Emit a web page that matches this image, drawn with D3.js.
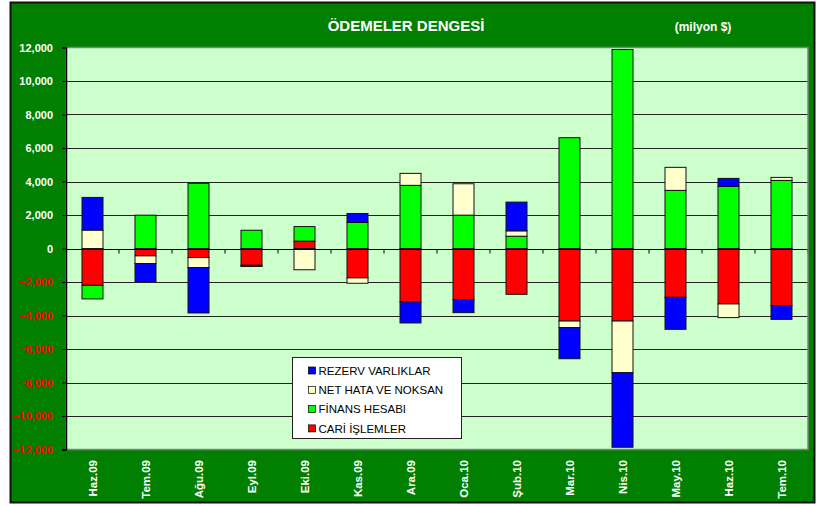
<!DOCTYPE html>
<html>
<head>
<meta charset="utf-8">
<script src="https://cdn.jsdelivr.net/npm/d3@7"></script>
<style>
  body { margin: 0; background: #fff; }
  text { font-family: Arial, "Liberation Sans", sans-serif; }
</style>
</head>
<body>
<div id="chart"></div>
<script>
// months and series (milyon $)
const months = ["Haz.09","Tem.09","Ağu.09","Eyl.09","Eki.09","Kas.09","Ara.09","Oca.10","Şub.10","Mar.10","Nis.10","May.10","Haz.10","Tem.10"];
const cari    = [-2200, -440, -540, -1000,  440, -1755, -3190, -3050, -2735, -4330, -4330, -2915, -3310, -3410];
const finans  = [ -810, 1990, 3890,  1090,  870,  1555,  3770,  1990,   735,  6615, 11880,  3470,  3710,  4065];
const netHata = [ 1100, -460, -595,   -40, -1270, -320,   715,  1875,   320,  -395, -3085,  1375,  -815,   180];
const rezerv  = [ 1950,-1075,-2715,   -30,    0,   535, -1255,  -780,  1715, -1855, -4450, -1910,   475,  -820];
const yTicks = [-12000,-10000,-8000,-6000,-4000,-2000,0,2000,4000,6000,8000,10000,12000];

const seriesInfo = [
  {key:"cari",    label:"CARİ İŞLEMLER",      color:"#ff0000", values:cari},
  {key:"finans",  label:"FİNANS HESABI",      color:"#00ff00", values:finans},
  {key:"netHata", label:"NET HATA VE NOKSAN", color:"#ffffcc", values:netHata},
  {key:"rezerv",  label:"REZERV VARLIKLAR",   color:"#0000ff", values:rezerv}
];

const table = months.map((m,i)=>{
  const row = {month:m};
  seriesInfo.forEach(s=>{ row[s.key]=s.values[i]; });
  return row;
});

const W = 819, H = 506;
const plot = {left: 66, right: 808, top: 47.5, bottom: 449.5};

const svg = d3.select("#chart").append("svg")
  .attr("width", W).attr("height", H);

// outer frame
svg.append("rect")
  .attr("x", 10.5).attr("y", 2.5)
  .attr("width", 804).attr("height", 500)
  .attr("fill", "#007f00")
  .attr("stroke", "#111").attr("stroke-width", 2);

// titles
svg.append("text")
  .attr("x", 406).attr("y", 31)
  .attr("text-anchor", "middle")
  .style("font-size", "15px").style("font-weight", "bold")
  .style("fill", "#fff")
  .text("ÖDEMELER DENGESİ");

svg.append("text")
  .attr("x", 703).attr("y", 31)
  .attr("text-anchor", "middle")
  .style("font-size", "12px").style("font-weight", "bold")
  .style("fill", "#fff")
  .text("(milyon $)");

const xScale = d3.scaleBand().domain(months).range([plot.left, plot.right]).paddingInner(0.6).paddingOuter(0.3);
const band = (plot.right - plot.left) / months.length;
const yScale = d3.scaleLinear().domain([-12000, 12000]).range([plot.bottom, plot.top]);

// plot background
svg.append("rect")
  .attr("x", plot.left).attr("y", plot.top)
  .attr("width", plot.right - plot.left).attr("height", plot.bottom - plot.top)
  .attr("fill", "#ccffcc");

// gridlines
svg.append("g").attr("class","grid")
  .selectAll("line")
  .data(yTicks.filter(d=>d!==0 && d!==-12000 && d!==12000))
  .join("line")
  .attr("x1", plot.left).attr("x2", plot.right)
  .attr("y1", d=>Math.round(yScale(d))+0.5).attr("y2", d=>Math.round(yScale(d))+0.5)
  .attr("stroke", "#222").attr("stroke-width", 1);

// stacked bars
const stack = d3.stack()
  .keys(seriesInfo.map(s=>s.key))
  .offset(d3.stackOffsetDiverging);
const stacked = stack(table);

const barW = 21;
svg.append("g").attr("class","bars")
  .selectAll("g")
  .data(stacked)
  .join("g")
  .attr("fill", (d,i)=>seriesInfo[i].color)
  .selectAll("rect")
  .data(d=>d.filter(p=>p[1]!==p[0]))
  .join("rect")
  .attr("x", p=>xScale(p.data.month) + xScale.bandwidth()/2 - barW/2)
  .attr("width", barW)
  .attr("y", p=>yScale(Math.max(p[0],p[1])))
  .attr("height", p=>Math.abs(yScale(p[0]) - yScale(p[1])))
  .attr("stroke", "#111").attr("stroke-width", 1);

// zero axis with category ticks
const zeroY = Math.round(yScale(0)) + 0.5;
svg.append("line")
  .attr("x1", plot.left).attr("x2", plot.right)
  .attr("y1", zeroY).attr("y2", zeroY)
  .attr("stroke", "#000").attr("stroke-width", 1);
svg.append("g").selectAll("line")
  .data(d3.range(months.length + 1))
  .join("line")
  .attr("x1", i=>plot.left + i*band).attr("x2", i=>plot.left + i*band)
  .attr("y1", zeroY).attr("y2", zeroY + 4)
  .attr("stroke", "#000");

// plot border
svg.append("rect")
  .attr("x", plot.left).attr("y", plot.top)
  .attr("width", plot.right - plot.left).attr("height", plot.bottom - plot.top)
  .attr("fill", "none")
  .attr("stroke", "#808080").attr("stroke-width", 1.5);

// y axis
const yAxisG = svg.append("g")
  .attr("transform", "translate(" + plot.left + ",0)")
  .call(d3.axisLeft(yScale).tickValues(yTicks).tickSize(4).tickPadding(9).tickFormat(d3.format(",")));
yAxisG.select(".domain").attr("stroke", "#000").attr("stroke-width", 1.5);
yAxisG.selectAll(".tick line").attr("stroke", "#000");
yAxisG.selectAll(".tick text")
  .style("font-size", "11px").style("font-weight", "bold")
  .style("font-family", "Arial, 'Liberation Sans', sans-serif")
  .attr("fill", d=>d<0 ? "#ff0000" : "#fff");

// x labels (rotated)
svg.append("g").selectAll("text")
  .data(months)
  .join("text")
  .attr("transform", d=>"translate(" + (xScale(d) + xScale.bandwidth()/2) + ",460) rotate(-90)")
  .attr("text-anchor", "end")
  .attr("dy", "0.35em")
  .style("font-size", "11.5px").style("font-weight", "bold")
  .style("fill", "#fff")
  .text(d=>d);

// legend
const legendG = svg.append("g").attr("transform", "translate(292.5,357.5)");
legendG.append("rect")
  .attr("width", 169).attr("height", 81)
  .attr("fill", "#fff").attr("stroke", "#222").attr("stroke-width", 1);
const legendItems = seriesInfo.slice().reverse();
const item = legendG.selectAll(".legItem")
  .data(legendItems)
  .join("g")
  .attr("class", "legItem")
  .attr("transform", (d,i)=>"translate(0," + (13 + i*19.3) + ")");
item.append("rect")
  .attr("x", 16).attr("y", -3.5)
  .attr("width", 7).attr("height", 7)
  .attr("fill", d=>d.color).attr("stroke", "#000").attr("stroke-width", 0.7);
item.append("text")
  .attr("x", 26).attr("dy", "0.36em")
  .style("font-size", "11.5px")
  .style("fill", "#000")
  .text(d=>d.label);
</script>
</body>
</html>
